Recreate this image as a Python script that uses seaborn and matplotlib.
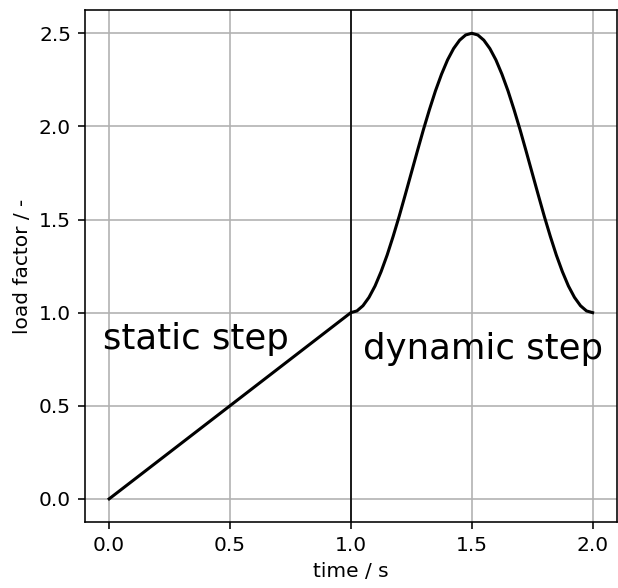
import matplotlib
matplotlib.use("Agg")
import matplotlib.pyplot as plt
import seaborn as sns
import pandas as pd

# static step (linear ramp)
t_static = [0.0, 1.0]
lf_static = [0.0, 1.0]
# dynamic step, values
t_dyn = [1.000, 1.025, 1.050, 1.075, 1.100, 1.125, 1.150, 1.175, 1.200, 1.225,
         1.250, 1.275, 1.300, 1.325, 1.350, 1.375, 1.400, 1.425, 1.450, 1.475,
         1.500, 1.525, 1.550, 1.575, 1.600, 1.625, 1.650, 1.675, 1.700, 1.725,
         1.750, 1.775, 1.800, 1.825, 1.850, 1.875, 1.900, 1.925, 1.950, 1.975, 2.000]
lf_dyn = [1.000, 1.009, 1.037, 1.082, 1.143, 1.220, 1.309, 1.410, 1.518, 1.633,
          1.750, 1.867, 1.982, 2.090, 2.191, 2.280, 2.357, 2.418, 2.463, 2.491,
          2.500, 2.491, 2.463, 2.418, 2.357, 2.280, 2.191, 2.090, 1.982, 1.867,
          1.750, 1.633, 1.518, 1.410, 1.309, 1.220, 1.143, 1.082, 1.037, 1.009, 1.000]

df = pd.DataFrame({"t": t_static + t_dyn, "lf": lf_static + lf_dyn})

plt.rcParams.update({
    "axes.linewidth": 1.15,
    "xtick.major.width": 1.15, "ytick.major.width": 1.15,
    "xtick.major.size": 5, "ytick.major.size": 5,
    "xtick.major.pad": 5, "ytick.major.pad": 5,
})

fig = plt.figure(figsize=(6.18, 5.88), dpi=100)
ax = fig.add_axes([0.1375, 0.112, 0.8605, 0.871])
sns.lineplot(data=df, x="t", y="lf", color="black", linewidth=2.2, ax=ax, sort=False, estimator=None)
ax.axvline(1.0, color="black", linewidth=1.2)
ax.grid(True, linewidth=1.15, color="#b0b0b0")
ax.set_xlabel("time / s", fontsize=14.5, labelpad=5)
ax.set_ylabel("load factor / -", fontsize=14.5, labelpad=5)
ax.tick_params(labelsize=14.5)
ax.set_xticks([0.0, 0.5, 1.0, 1.5, 2.0])
ax.set_yticks([0.0, 0.5, 1.0, 1.5, 2.0, 2.5])
ax.text(-0.025, 0.805, "static step", fontsize=25.6, va="baseline")
ax.text(1.050, 0.751, "dynamic step", fontsize=25.6, va="baseline")
fig.savefig("out.png", dpi=100)
